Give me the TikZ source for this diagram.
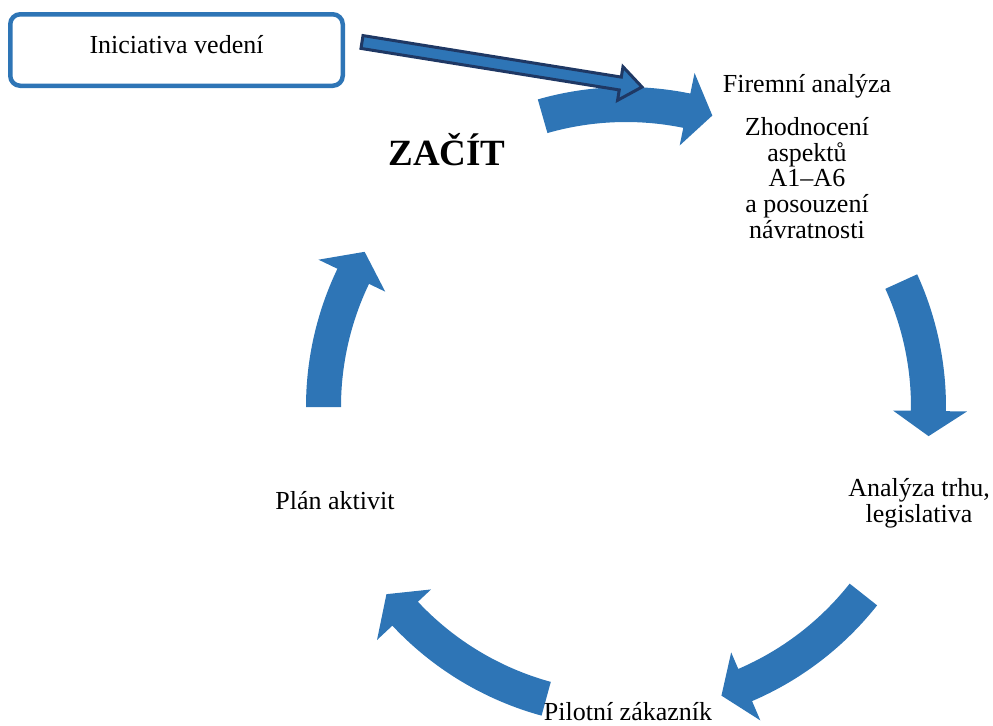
\documentclass[tikz,border=0pt]{standalone}
\usepackage{fontspec}
\setmainfont{Liberation Serif}
\usetikzlibrary{calc}
\definecolor{cycleblue}{HTML}{2E75B6}
\definecolor{darknavy}{HTML}{1F3864}

\newcommand{\cyclearrow}[3]{%
  \fill[cycleblue] ([shift={(#1:285)}]cc) arc[start angle=#1, end angle=#2, radius=285]
    -- ([shift={(#2:267)}]cc) -- ([shift={(#3:304)}]cc) -- ([shift={(#2:341)}]cc)
    -- ([shift={(#2:320)}]cc) arc[start angle=#2, end angle=#1, radius=320] -- cycle;}

\begin{document}
\begin{tikzpicture}[x=0.5pt,y=0.5pt,
                        lbl/.style={align=center, font=\fontsize{13}{12.9}\selectfont},
                        ivbox/.style={draw=cycleblue, line width=2.25pt, rounded corners=5pt,
                          minimum width=166.25pt, minimum height=35.75pt,
                          text height=9pt, text depth=6pt, font=\fontsize{13}{13}\selectfont}]
                        \useasboundingbox (0,0) rectangle (993,-725);
                        \coordinate (cc) at (626,-407);
                        \cyclearrow{106}{78.4}{73.5}
                        \cyclearrow{24.5}{-0.75}{-5.5}
                        \cyclearrow{-38.3}{-66.8}{-71.7}
                        \cyclearrow{-105.3}{-136.9}{-142}
                        \cyclearrow{180}{154.4}{149.3}
                        \node[ivbox] (vedeni) at (176.5,-50) {Iniciativa vedení};
                        \coordinate (ivs) at (362,-42);
                        \coordinate (ivt) at (642,-87);
                        \coordinate (ivb) at ($(ivt)!11pt!(ivs)$);
                        \filldraw[fill=cycleblue, draw=darknavy, line width=1.5pt]
                          ($(ivs)!3.25pt!90:(ivt)$) -- ($(ivb)!3.25pt!90:(ivt)$)
                          -- ($(ivb)!8.5pt!90:(ivt)$) -- (ivt)
                          -- ($(ivb)!8.5pt!-90:(ivt)$) -- ($(ivb)!3.25pt!-90:(ivt)$)
                          -- ($(ivs)!3.25pt!-90:(ivt)$) -- cycle;
                        \node[lbl] (firemni) at (807,-86) {Firemní analýza};
                        \node[lbl] (zhodnoceni) at (807,-178) {Zhodnocení\\aspektů\\A1–A6\\a posouzení\\návratnosti};
                        \node[lbl] (trh) at (919,-503.5) {Analýza trhu,\\legislativa};
                        \node[lbl] (pilot) at (628,-712) {Pilotní zákazník};
                        \node[lbl] (plan) at (335,-501) {Plán aktivit};
                        \node[font=\fontsize{18.5}{19}\selectfont\bfseries] (zacit) at (447,-150) {ZAČÍT};
                      \end{tikzpicture}
\end{document}
